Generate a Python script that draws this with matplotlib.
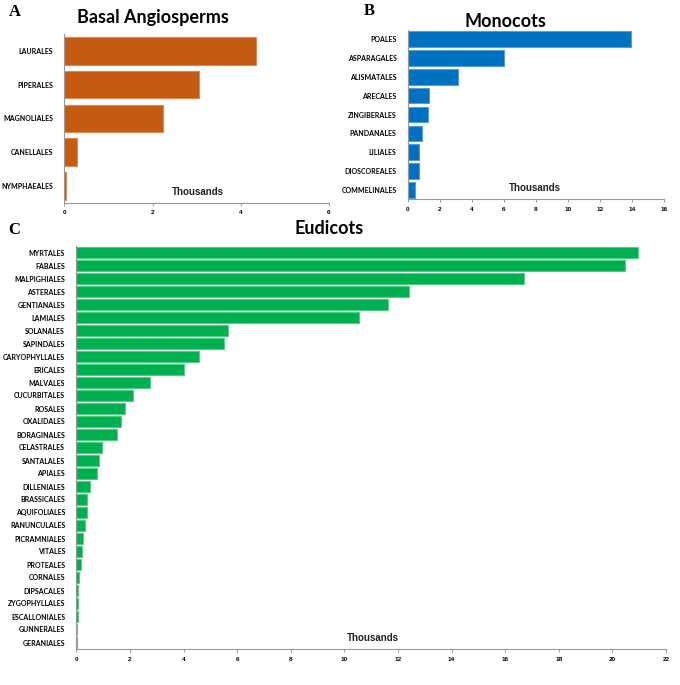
import matplotlib
matplotlib.use("Agg")
import matplotlib.pyplot as plt

# panel A - basal angiosperms (thousands)
basal_orders = ["LAURALES", "PIPERALES", "MAGNOLIALES", "CANELLALES", "NYMPHAEALES"]
basal_values = [4.35, 3.05, 2.23, 0.29, 0.04]

# panel B - monocots
mono_orders = ["POALES", "ASPARAGALES", "ALISMATALES", "ARECALES", "ZINGIBERALES",
               "PANDANALES", "LILIALES", "DIOSCOREALES", "COMMELINALES"]
mono_values = [13.92, 6.0, 3.14, 1.31, 1.27, 0.87, 0.72, 0.72, 0.44]

# panel C - eudicots
eudi_orders = ["MYRTALES", "FABALES", "MALPIGHIALES", "ASTERALES", "GENTIANALES",
               "LAMIALES", "SOLANALES", "SAPINDALES", "CARYOPHYLLALES", "ERICALES",
               "MALVALES", "CUCURBITALES", "ROSALES", "OXALIDALES", "BORAGINALES",
               "CELASTRALES", "SANTALALES", "APIALES", "DILLENIALES", "BRASSICALES",
               "AQUIFOLIALES", "RANUNCULALES", "PICRAMNIALES", "VITALES", "PROTEALES",
               "CORNALES", "DIPSACALES", "ZYGOPHYLLALES", "ESCALLONIALES", "GUNNERALES",
               "GERANIALES"]
eudi_values = [20.95, 20.48, 16.7, 12.42, 11.63, 10.55, 5.65, 5.50, 4.56, 4.03,
               2.74, 2.13, 1.81, 1.66, 1.51, 0.95, 0.85, 0.76, 0.51, 0.41,
               0.41, 0.32, 0.24, 0.22, 0.18, 0.09, 0.05, 0.05, 0.05, 0.02, 0.01]

W, H = 680, 685
fig = plt.figure(figsize=(W / 100, H / 100), dpi=100)


def px(x0, y0, x1, y1):
    # pixel box -> figure fraction rect
    return [x0 / W, 1 - y1 / H, (x1 - x0) / W, (y1 - y0) / H]


def panel(rect, orders, values, color, edge, xmax, step):
    ax = fig.add_axes(rect)
    pos = range(len(orders))
    ax.barh(pos, values, height=0.82, color=color, edgecolor=edge, linewidth=0.8)
    ax.set_ylim(len(orders) - 0.5, -0.5)
    ax.set_xlim(0, xmax)
    ax.set_yticks(list(pos))
    ax.set_yticklabels(orders, family="Lato", fontweight="bold", fontsize=5)
    ax.set_xticks(range(0, xmax + 1, step))
    ax.set_xticklabels([str(v) for v in range(0, xmax + 1, step)],
                       family="Liberation Sans", fontweight="bold", fontsize=4.6)
    ax.tick_params(axis="y", length=0, pad=8)
    ax.tick_params(axis="x", length=2.5, width=0.6, color="#888888", pad=3)
    for s in ["top", "right"]:
        ax.spines[s].set_visible(False)
    for s in ["left", "bottom"]:
        ax.spines[s].set_color("#999999")
        ax.spines[s].set_linewidth(0.8)
    return ax


panel(px(64.3, 34, 329, 202.7), basal_orders, basal_values, "#C55A11", "#E08A50", 6, 2)
panel(px(407.7, 29.8, 664.3, 199.3), mono_orders, mono_values, "#0070C0", "#4FA0E0", 16, 2)
panel(px(76.3, 246, 666, 649), eudi_orders, eudi_values, "#00B050", "#50D080", 22, 2)

# titles
fig.text(153 / W, 1 - 18 / H, "Basal Angiosperms", family="Lato", fontweight="bold",
         fontsize=13, ha="center", va="center")
fig.text(505.7 / W, 1 - 21.7 / H, "Monocots", family="Lato", fontweight="bold",
         fontsize=13, ha="center", va="center")
fig.text(329.5 / W, 1 - 229 / H, "Eudicots", family="Lato", fontweight="bold",
         fontsize=13, ha="center", va="center")

# panel letters
for x, y, s in [(15, 12, "A"), (369, 11, "B"), (14, 230, "C")]:
    fig.text(x / W, 1 - y / H, s, family="Liberation Serif", fontweight="bold",
             fontsize=12, ha="center", va="center")

# "Thousands" axis notes
for x, y in [(198, 192), (535, 188), (373, 637.6)]:
    fig.text(x / W, 1 - y / H, "Thousands", family="Liberation Sans", fontweight="bold",
             fontsize=7, ha="center", va="center", color="#222222")

fig.savefig("out.png", dpi=100)
